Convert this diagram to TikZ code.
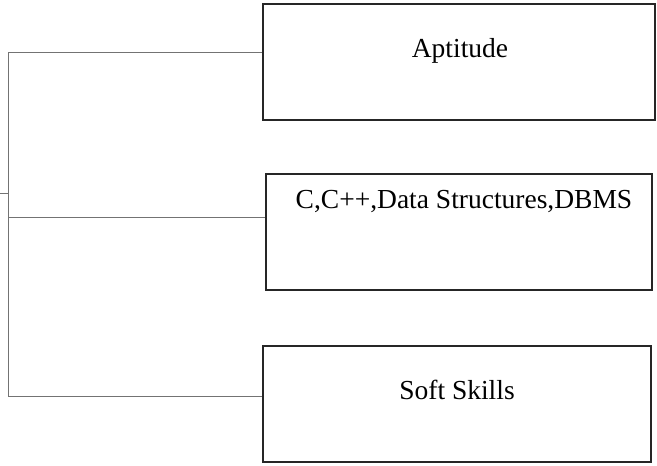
\documentclass[tikz,border=0pt]{standalone}
\usepackage{fontspec}
\setmainfont{Liberation Serif}
\usepackage{tikz}
\usetikzlibrary{positioning, calc}

\begin{document}
\begin{tikzpicture}[
    x=1pt, y=-1pt,
    % ── boxes ──
    topicBox/.style = {draw=black!85, line width=1.2pt, fill=white,
                       minimum height=116pt, inner sep=0pt},
    % ── connectors ──
    link/.style     = {draw=black!55, line width=0.8pt},
    % ── text ──
    topicLabel/.style = {font=\fontsize{27.5}{33}\selectfont, anchor=base},
]

\useasboundingbox (0,0) rectangle (657,466);

% =====================================================================
% Topic boxes
% =====================================================================
\node[topicBox, minimum width=392pt] (apt)  at (459,62)  {};
\node[topicLabel] at ($(apt.north)+(1,54)$) {Aptitude};

\node[topicBox, minimum width=386pt] (lang) at (459,232) {};
\node[topicLabel] at ($(lang.north)+(5,35)$) {C,C++,Data Structures,DBMS};

\node[topicBox, minimum width=388pt] (soft) at (457,404) {};
\node[topicLabel] at ($(soft.north)+(0,54)$) {Soft Skills};

% =====================================================================
% Tree connectors
% =====================================================================
\coordinate (in)    at (0,193);
\coordinate (spTop) at (8,52);
\coordinate (spMid) at (8,217);
\coordinate (spBot) at (8,396);

\draw[link] (spTop) -- (spBot);
\draw[link] (in) -- (in -| spTop);
\draw[link] (spTop) -- (spTop -| apt.west);
\draw[link] (spMid) -- (spMid -| lang.west);
\draw[link] (spBot) -- (spBot -| soft.west);

\end{tikzpicture}
\end{document}
